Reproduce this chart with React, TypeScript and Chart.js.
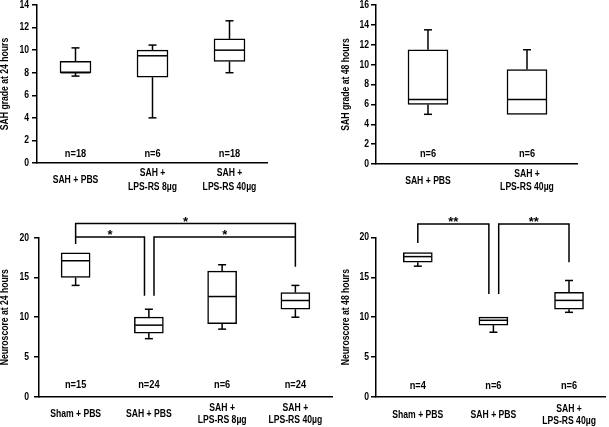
import React, { useEffect, useRef } from 'react';
import { Chart, registerables } from 'chart.js';

Chart.register(...registerables);

const FONT = "'Liberation Sans', Arial, sans-serif";
const FONT_SIZE = 10.5;
const NARROW = 0.82; // horizontal compression to mimic a narrow bold face

// ---------- Panel A: SAH grade at 24 hours ----------
const gradeDay1Labels = [['SAH + PBS'], ['SAH +', 'LPS-RS 8µg'], ['SAH +', 'LPS-RS 40µg']];
const gradeDay1Min = [7.7, 4.0, 8.0];
const gradeDay1Q1 = [8.0, 7.6, 9.0];
const gradeDay1Median = [8.0, 9.5, 10.0];
const gradeDay1Q3 = [9.0, 10.0, 11.0];
const gradeDay1Max = [10.2, 10.45, 12.6];
const gradeDay1N = ['n=18', 'n=6', 'n=18'];

// ---------- Panel B: SAH grade at 48 hours ----------
const gradeDay2Labels = [['SAH + PBS'], ['SAH +', 'LPS-RS 40µg']];
const gradeDay2Min = [5.0, 5.0];
const gradeDay2Q1 = [6.0, 5.0];
const gradeDay2Median = [6.5, 6.5];
const gradeDay2Q3 = [11.5, 9.5];
const gradeDay2Max = [13.5, 11.5];
const gradeDay2N = ['n=6', 'n=6'];

// ---------- Panel C: Neuroscore at 24 hours ----------
const neuroDay1Labels = [['Sham + PBS'], ['SAH + PBS'], ['SAH +', 'LPS-RS 8µg'], ['SAH +', 'LPS-RS 40µg']];
const neuroDay1Min = [14.0, 7.3, 8.5, 10.0];
const neuroDay1Q1 = [15.0, 8.0, 9.2, 11.0];
const neuroDay1Median = [17.1, 9.0, 12.6, 12.1];
const neuroDay1Q3 = [18.1, 10.0, 15.8, 13.1];
const neuroDay1Max = [18.1, 11.0, 16.6, 14.0];
const neuroDay1N = ['n=15', 'n=24', 'n=6', 'n=24'];
// significance brackets
const neuroDay1BracketFrom = [0, 0, 1.07];
const neuroDay1BracketTo = [3, 0.94, 3];
const neuroDay1BracketLevel = [21.8, 20.1, 20.1];
const neuroDay1BracketLeftEnd = [19.2, 20.1, 12.7];
const neuroDay1BracketRightEnd = [16.35, 12.7, 20.1];
const neuroDay1BracketLabel = ['*', '*', '*'];

// ---------- Panel D: Neuroscore at 48 hours ----------
const neuroDay2Labels = [['Sham + PBS'], ['SAH + PBS'], ['SAH +', 'LPS-RS 40µg']];
const neuroDay2Min = [16.4, 8.1, 10.6];
const neuroDay2Q1 = [16.9, 9.0, 11.0];
const neuroDay2Median = [17.6, 9.6, 12.1];
const neuroDay2Q3 = [18.1, 10.0, 13.1];
const neuroDay2Max = [18.1, 10.0, 14.6];
const neuroDay2N = ['n=4', 'n=6', 'n=6'];
const neuroDay2BracketFrom = [0, 1.07];
const neuroDay2BracketTo = [0.94, 2];
const neuroDay2BracketLevel = [21.7, 21.7];
const neuroDay2BracketLeftEnd = [19.3, 12.9];
const neuroDay2BracketRightEnd = [12.9, 16.9];
const neuroDay2BracketLabel = ['**', '**'];

type Panel = {
  key: string;
  labels: string[][];
  min: number[]; q1: number[]; med: number[]; q3: number[]; max: number[];
  n: string[]; nY: number;
  yTitle: string; yMax: number; yStep: number;
  bFrom: number[]; bTo: number[]; bLevel: number[]; bL: number[]; bR: number[]; bLabel: string[];
  // layout
  left: number; top: number; width: number; height: number;
  padL: number; padR: number; padT: number;
  yAxisW: number; xAxisH: number; xMin: number; xMax: number;
  barW: number; yTickPad: number; xLabelOff: number; xLineH: number;
};

const panels: Panel[] = [
  {
    key: 'a', labels: gradeDay1Labels, min: gradeDay1Min, q1: gradeDay1Q1, med: gradeDay1Median,
    q3: gradeDay1Q3, max: gradeDay1Max, n: gradeDay1N, nY: 0.8,
    yTitle: 'SAH grade at 24 hours', yMax: 14, yStep: 2,
    bFrom: [], bTo: [], bLevel: [], bL: [], bR: [], bLabel: [],
    left: 0, top: 0, width: 300, height: 210, padL: 0, padR: 33, padT: 5,
    yAxisW: 37, xAxisH: 47, xMin: -0.5, xMax: 2.487, barW: 31, yTickPad: 3, xLabelOff: 17, xLineH: 13.3,
  },
  {
    key: 'b', labels: gradeDay2Labels, min: gradeDay2Min, q1: gradeDay2Q1, med: gradeDay2Median,
    q3: gradeDay2Q3, max: gradeDay2Max, n: gradeDay2N, nY: 1.0,
    yTitle: 'SAH grade at 48 hours', yMax: 16, yStep: 2,
    bFrom: [], bTo: [], bLevel: [], bL: [], bR: [], bLabel: [],
    left: 300, top: 0, width: 309, height: 210, padL: 40.5, padR: 32, padT: 5,
    yAxisW: 35.5, xAxisH: 46, xMin: -0.525, xMax: 1.505, barW: 40, yTickPad: 2, xLabelOff: 16.8, xLineH: 13,
  },
  {
    key: 'c', labels: neuroDay1Labels, min: neuroDay1Min, q1: neuroDay1Q1, med: neuroDay1Median,
    q3: neuroDay1Q3, max: neuroDay1Max, n: neuroDay1N, nY: 1.4,
    yTitle: 'Neuroscore at 24 hours', yMax: 20, yStep: 5,
    bFrom: neuroDay1BracketFrom, bTo: neuroDay1BracketTo, bLevel: neuroDay1BracketLevel,
    bL: neuroDay1BracketLeftEnd, bR: neuroDay1BracketRightEnd, bLabel: neuroDay1BracketLabel,
    left: 0, top: 210, width: 340, height: 217, padL: 0, padR: 8, padT: 27.7,
    yAxisW: 39, xAxisH: 30.3, xMin: -0.5, xMax: 3.5, barW: 29, yTickPad: 5, xLabelOff: 17.5, xLineH: 11.7,
  },
  {
    key: 'd', labels: neuroDay2Labels, min: neuroDay2Min, q1: neuroDay2Q1, med: neuroDay2Median,
    q3: neuroDay2Q3, max: neuroDay2Max, n: neuroDay2N, nY: 1.3,
    yTitle: 'Neuroscore at 48 hours', yMax: 20, yStep: 5,
    bFrom: neuroDay2BracketFrom, bTo: neuroDay2BracketTo, bLevel: neuroDay2BracketLevel,
    bL: neuroDay2BracketLeftEnd, bR: neuroDay2BracketRightEnd, bLabel: neuroDay2BracketLabel,
    left: 330, top: 210, width: 279, height: 217, padL: 10.3, padR: 4, padT: 27.5,
    yAxisW: 35.7, xAxisH: 30.3, xMin: -0.553, xMax: 2.476, barW: 29, yTickPad: 2, xLabelOff: 18, xLineH: 12,
  },
];

const CAP_W = 8;
const LINE_W = 1.5;
const TICK_LEN = 5;

function narrowText(
  ctx: CanvasRenderingContext2D, text: string, x: number, y: number,
  align: CanvasTextAlign, sx: number, rotate = 0,
) {
  ctx.save();
  ctx.translate(x, y);
  if (rotate) ctx.rotate(rotate);
  ctx.scale(sx, 1);
  ctx.textAlign = align;
  ctx.textBaseline = 'middle';
  ctx.fillText(text, 0, 0);
  ctx.restore();
}

function makeBoxPlugin(p: Panel) {
  return {
    id: 'boxWhisker_' + p.key,
    afterDatasetsDraw(chart: any) {
      const { ctx, chartArea } = chart;
      const xs = chart.scales.x;
      const ys = chart.scales.y;
      const px = (v: number) => xs.getPixelForValue(v);
      const py = (v: number) => ys.getPixelForValue(v);
      const line = (x1: number, y1: number, x2: number, y2: number) => {
        ctx.beginPath();
        ctx.moveTo(x1, y1);
        ctx.lineTo(x2, y2);
        ctx.stroke();
      };
      ctx.save();
      ctx.strokeStyle = '#000';
      ctx.lineWidth = LINE_W;
      ctx.lineCap = 'butt';
      p.med.forEach((m, i) => {
        const cx = px(i);
        const hw = p.barW / 2;
        if (p.max[i] > p.q3[i]) {
          line(cx, py(p.q3[i]), cx, py(p.max[i]));
          line(cx - CAP_W / 2, py(p.max[i]), cx + CAP_W / 2, py(p.max[i]));
        }
        if (p.min[i] < p.q1[i]) {
          line(cx, py(p.q1[i]), cx, py(p.min[i]));
          line(cx - CAP_W / 2, py(p.min[i]), cx + CAP_W / 2, py(p.min[i]));
        }
        line(cx - hw + 0.75, py(m), cx + hw - 0.75, py(m));
      });

      ctx.fillStyle = '#000';
      ctx.font = `bold ${FONT_SIZE}px ${FONT}`;
      // n labels
      p.n.forEach((t, i) => narrowText(ctx, t, px(i), py(p.nY), 'center', 0.88));
      // category labels
      p.labels.forEach((lines, i) => {
        const cy = chartArea.bottom + p.xLabelOff;
        const startY = cy - ((lines.length - 1) * p.xLineH) / 2;
        lines.forEach((t, j) => narrowText(ctx, t, px(i), startY + j * p.xLineH, 'center', NARROW));
      });
      // y tick labels
      ys.ticks.forEach((t: any) => {
        narrowText(ctx, String(t.value), chartArea.left - TICK_LEN - p.yTickPad, py(t.value), 'right', NARROW);
      });
      // y axis title
      narrowText(ctx, p.yTitle, p.padL + 5.5, (chartArea.top + chartArea.bottom) / 2, 'center', NARROW, -Math.PI / 2);

      // significance brackets
      p.bLevel.forEach((lvl, i) => {
        const xa = px(p.bFrom[i]);
        const xb = px(p.bTo[i]);
        const yy = py(lvl);
        ctx.beginPath();
        ctx.moveTo(xa, py(p.bL[i]));
        ctx.lineTo(xa, yy);
        ctx.lineTo(xb, yy);
        ctx.lineTo(xb, py(p.bR[i]));
        ctx.stroke();
        ctx.save();
        ctx.font = `bold 13px ${FONT}`;
        ctx.textAlign = 'center';
        ctx.textBaseline = 'alphabetic';
        ctx.fillText(p.bLabel[i], (xa + xb) / 2, yy + 2.5);
        ctx.restore();
      });
      ctx.restore();
    },
  };
}

function BoxPanel({ p }: { p: Panel }) {
  const ref = useRef<HTMLCanvasElement | null>(null);
  useEffect(() => {
    if (!ref.current) return;
    const chart = new Chart(ref.current, {
      type: 'bar',
      data: {
        datasets: [
          {
            data: p.q1.map((v, i) => ({ x: i, y: [v, p.q3[i]] })) as any,
            backgroundColor: '#ffffff',
            borderColor: '#000000',
            borderWidth: LINE_W,
            borderSkipped: false,
            barThickness: p.barW,
          },
        ],
      },
      options: {
        responsive: false,
        animation: false,
        devicePixelRatio: 1,
        layout: { padding: { left: p.padL, right: p.padR, top: p.padT, bottom: 0 } },
        plugins: { legend: { display: false }, tooltip: { enabled: false } },
        scales: {
          x: {
            type: 'linear',
            min: p.xMin,
            max: p.xMax,
            offset: false,
            afterBuildTicks: (s: any) => {
              s.ticks = p.labels.map((_, i) => ({ value: i }));
            },
            afterFit: (s: any) => {
              s.height = p.xAxisH;
              s.paddingLeft = 0;
              s.paddingRight = 0;
            },
            ticks: { display: false },
            grid: { display: false, drawTicks: false, offset: false },
            border: { display: true, color: '#000', width: LINE_W },
          },
          y: {
            min: 0,
            max: p.yMax,
            afterFit: (s: any) => {
              s.width = p.yAxisW;
              s.paddingTop = 0;
              s.paddingBottom = 0;
            },
            ticks: { stepSize: p.yStep, display: false },
            grid: {
              display: true,
              drawOnChartArea: false,
              drawTicks: true,
              tickLength: TICK_LEN,
              color: '#000',
              lineWidth: LINE_W,
            },
            border: { display: true, color: '#000', width: LINE_W },
            title: { display: false },
          },
        },
      } as any,
      plugins: [makeBoxPlugin(p)],
    });
    return () => chart.destroy();
  }, [p]);
  return (
    <canvas
      ref={ref}
      width={p.width}
      height={p.height}
      style={{ position: 'absolute', left: p.left, top: p.top, width: p.width, height: p.height, display: 'block' }}
    />
  );
}

export default function App() {
  return (
    <div style={{ position: 'absolute', left: 0, top: 0, width: 609, height: 427, background: '#fff', overflow: 'hidden' }}>
      {panels.map((p) => (
        <BoxPanel key={p.key} p={p} />
      ))}
    </div>
  );
}
